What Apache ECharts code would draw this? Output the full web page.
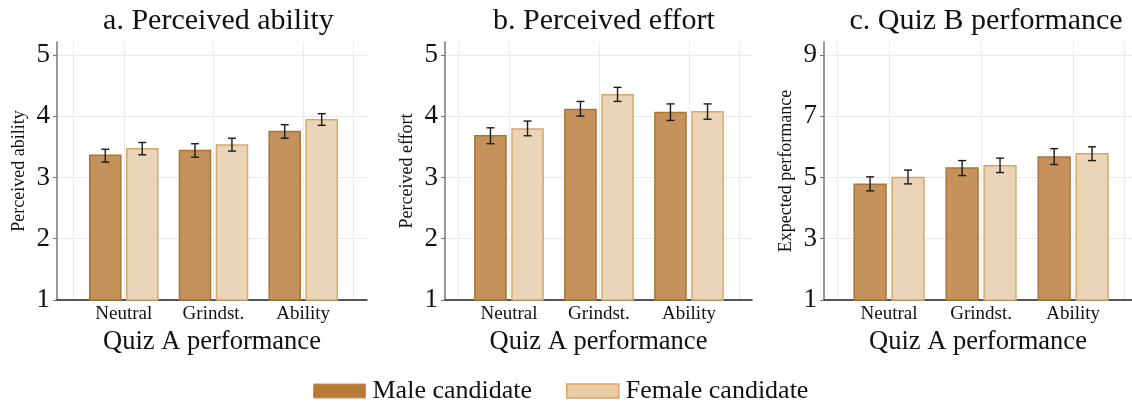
<!DOCTYPE html>
<html>
<head>
<meta charset="utf-8">
<script src="https://cdn.jsdelivr.net/npm/echarts@6/dist/echarts.min.js"></script>
<style>
  html, body { margin: 0; padding: 0; background: #fff; }
  #chart { width: 1132px; height: 410px; }
</style>
</head>
<body>
<div id="chart"></div>
<script>
const categories = ['Neutral', 'Grindst.', 'Ability'];

// panel a: perceived ability
const abilityMale = [3.36, 3.44, 3.75];
const abilityMaleLo = [3.25, 3.33, 3.64];
const abilityMaleHi = [3.46, 3.55, 3.86];
const abilityFemale = [3.47, 3.53, 3.94];
const abilityFemaleLo = [3.37, 3.43, 3.85];
const abilityFemaleHi = [3.57, 3.64, 4.04];

// panel b: perceived effort
const effortMale = [3.68, 4.11, 4.06];
const effortMaleLo = [3.55, 4.0, 3.93];
const effortMaleHi = [3.81, 4.24, 4.2];
const effortFemale = [3.79, 4.35, 4.07];
const effortFemaleLo = [3.68, 4.24, 3.95];
const effortFemaleHi = [3.92, 4.47, 4.2];

// panel c: quiz B performance
const quizMale = [4.78, 5.31, 5.67];
const quizMaleLo = [4.56, 5.06, 5.42];
const quizMaleHi = [5.02, 5.55, 5.94];
const quizFemale = [5.0, 5.38, 5.77];
const quizFemaleLo = [4.79, 5.16, 5.55];
const quizFemaleHi = [5.24, 5.63, 6.0];

const ticksAB = [1, 2, 3, 4, 5];
const ticksC = [1, 3, 5, 7, 9];
const xGridValues = [0.44, 1, 2, 3, 3.56];

const FONT = 'Liberation Serif';
const BAR_OFFSET = 0.206;
const BAR_HALF = 0.173;
const MALE = { fill: '#C4925A', border: '#A97537' };
const FEMALE = { fill: '#EBD5B8', border: '#D7A86D' };

const panels = [
  {
    title: 'a. Perceived ability', yName: 'Perceived ability',
    grid: { left: 57, right: 765 }, xMin: 0.256, xMax: 3.711,
    yMin: 1, yMax: 5.21, yTicks: ticksAB,
    male: [abilityMale, abilityMaleLo, abilityMaleHi],
    female: [abilityFemale, abilityFemaleLo, abilityFemaleHi],
  },
  {
    title: 'b. Perceived effort', yName: 'Perceived effort',
    grid: { left: 445, right: 380 }, xMin: 0.289, xMax: 3.7,
    yMin: 1, yMax: 5.21, yTicks: ticksAB,
    male: [effortMale, effortMaleLo, effortMaleHi],
    female: [effortFemale, effortFemaleLo, effortFemaleHi],
  },
  {
    title: 'c. Quiz B performance', yName: 'Expected performance',
    grid: { left: 824, right: 0 }, xMin: 0.293, xMax: 3.64,
    yMin: 1, yMax: 9.42, yTicks: ticksC,
    male: [quizMale, quizMaleLo, quizMaleHi],
    female: [quizFemale, quizFemaleLo, quizFemaleHi],
  },
];

function makeRender(offset, colors, yMin) {
  return function (params, api) {
    const x = api.value(0) + offset;
    const topLeft = api.coord([x - BAR_HALF, api.value(1)]);
    const bottomRight = api.coord([x + BAR_HALF, yMin]);
    const cx = api.coord([x, yMin])[0];
    const yHi = api.coord([x, api.value(3)])[1];
    const yLo = api.coord([x, api.value(2)])[1];
    const cap = 4;
    const errStyle = { stroke: '#1a1a1a', lineWidth: 1.4 };
    return {
      type: 'group',
      children: [
        {
          type: 'rect',
          shape: {
            x: topLeft[0], y: topLeft[1],
            width: bottomRight[0] - topLeft[0],
            height: bottomRight[1] - topLeft[1],
          },
          style: { fill: colors.fill, stroke: colors.border, lineWidth: 1.5 },
        },
        { type: 'line', shape: { x1: cx, y1: yHi, x2: cx, y2: yLo }, style: errStyle },
        { type: 'line', shape: { x1: cx - cap, y1: yHi, x2: cx + cap, y2: yHi }, style: errStyle },
        { type: 'line', shape: { x1: cx - cap, y1: yLo, x2: cx + cap, y2: yLo }, style: errStyle },
      ],
    };
  };
}

function toData(arrs) {
  return arrs[0].map((v, i) => [i + 1, v, arrs[1][i], arrs[2][i]]);
}

const option = {
  animation: false,
  backgroundColor: '#fff',
  textStyle: { fontFamily: FONT },
  title: [],
  grid: [],
  xAxis: [],
  yAxis: [],
  series: [],
  legend: {
    left: 313,
    top: 378,
    padding: 0,
    itemWidth: 52,
    itemHeight: 14,
    itemGap: 34,
    icon: 'rect',
    textStyle: { fontFamily: FONT, fontSize: 26, color: '#111', padding: [0, 0, 0, 2] },
    data: [
      { name: 'Male candidate', itemStyle: { color: '#B87A35', borderColor: '#C99257', borderWidth: 1 } },
      { name: 'Female candidate', itemStyle: { color: '#EBCBA3', borderColor: '#D9A466', borderWidth: 1.5 } },
    ],
  },
};

panels.forEach((p, i) => {
  const w = 1132 - p.grid.left - p.grid.right;
  // title sits over the middle category
  option.title.push({
    text: p.title,
    left: p.grid.left + (2 - p.xMin) / (p.xMax - p.xMin) * w,
    top: 1,
    textAlign: 'center',
    textStyle: { fontFamily: FONT, fontSize: 30, fontWeight: 'normal', color: '#111' },
  });
  option.grid.push({
    left: p.grid.left, right: p.grid.right, top: 42, bottom: 110,
    outerBoundsMode: 'none',
  });
  option.xAxis.push({
    type: 'value',
    gridIndex: i,
    min: p.xMin,
    max: p.xMax,
    name: 'Quiz A performance',
    nameLocation: 'middle',
    nameGap: 24,
    nameTextStyle: { fontFamily: FONT, fontSize: 26.5, color: '#111', verticalAlign: 'top' },
    axisLine: { lineStyle: { color: '#222', width: 1.5 } },
    axisTick: { show: false, customValues: xGridValues },
    axisLabel: {
      customValues: [1, 2, 3],
      formatter: (v) => categories[Math.round(v) - 1],
      fontFamily: FONT, fontSize: 19, color: '#111', margin: 5,
    },
    splitLine: { show: true, lineStyle: { color: '#ebebeb', width: 1 } },
  });
  option.yAxis.push({
    type: 'value',
    gridIndex: i,
    min: p.yMin,
    max: p.yMax,
    name: p.yName,
    nameLocation: 'middle',
    nameGap: 29,
    nameTextStyle: { fontFamily: FONT, fontSize: 18, color: '#111' },
    axisLine: { show: true, lineStyle: { color: '#777', width: 1.5 } },
    axisTick: { show: true, length: 4, customValues: p.yTicks, lineStyle: { color: '#777' } },
    axisLabel: {
      customValues: p.yTicks,
      fontFamily: FONT, fontSize: 27, color: '#111', margin: 7,
    },
    splitLine: { show: true, lineStyle: { color: '#ebebeb', width: 1 } },
  });
  option.series.push({
    type: 'custom',
    name: 'Male candidate',
    xAxisIndex: i,
    yAxisIndex: i,
    itemStyle: { color: MALE.fill },
    renderItem: makeRender(-BAR_OFFSET, MALE, p.yMin),
    encode: { x: 0, y: [1, 2, 3] },
    data: toData(p.male),
  });
  option.series.push({
    type: 'custom',
    name: 'Female candidate',
    xAxisIndex: i,
    yAxisIndex: i,
    itemStyle: { color: FEMALE.fill },
    renderItem: makeRender(BAR_OFFSET, FEMALE, p.yMin),
    encode: { x: 0, y: [1, 2, 3] },
    data: toData(p.female),
  });
});

const chart = echarts.init(document.getElementById('chart'), null, { renderer: 'canvas' });
chart.setOption(option);
</script>
</body>
</html>
